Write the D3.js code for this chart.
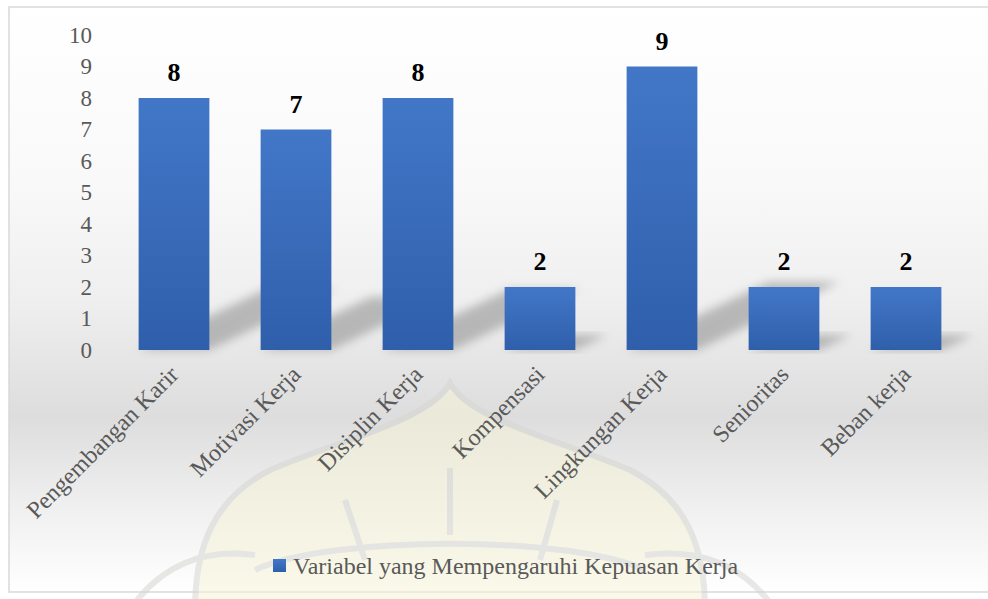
<!DOCTYPE html>
<html>
<head>
<meta charset="utf-8">
<script src="https://cdn.jsdelivr.net/npm/d3@7"></script>
<style>
  body { margin: 0; background: #fff; }
  svg { display: block; }
</style>
</head>
<body>
<div id="chart"></div>
<script>
const categories = ['Pengembangan Karir', 'Motivasi Kerja', 'Disiplin Kerja', 'Kompensasi', 'Lingkungan Kerja', 'Senioritas', 'Beban kerja'];
const values = [8, 7, 8, 2, 9, 2, 2];
const yTicks = [0, 1, 2, 3, 4, 5, 6, 7, 8, 9, 10];
const seriesName = 'Variabel yang Mempengaruhi Kepuasan Kerja';

const width = 988;
const height = 599;
const font = "'Liberation Serif', 'Times New Roman', serif";

const svg = d3.select('#chart')
  .append('svg')
  .attr('width', width)
  .attr('height', height);

const defs = svg.append('defs');

// chart area background
const bg = defs.append('linearGradient')
  .attr('id', 'bg')
  .attr('x1', 0).attr('y1', 0).attr('x2', 0).attr('y2', 1);
[[0, '#ffffff'], [0.3, '#f9f9f9'], [0.5, '#efefef'], [0.7, '#dddddd'], [0.85, '#efefef'], [1, '#ffffff']]
  .forEach(([o, c]) => bg.append('stop').attr('offset', o).attr('stop-color', c));

const barGrad = defs.append('linearGradient')
  .attr('id', 'bar')
  .attr('x1', 0).attr('y1', 0).attr('x2', 0).attr('y2', 1);
barGrad.append('stop').attr('offset', 0).attr('stop-color', '#4277c8');
barGrad.append('stop').attr('offset', 1).attr('stop-color', '#2f5fab');

defs.append('filter')
  .attr('id', 'blur')
  .attr('x', '-20%').attr('y', '-20%').attr('width', '140%').attr('height', '140%')
  .append('feGaussianBlur')
  .attr('stdDeviation', 5);

svg.append('rect')
  .attr('x', 9)
  .attr('y', 7)
  .attr('width', width)
  .attr('height', 585)
  .attr('fill', 'url(#bg)')
  .attr('stroke', '#d9d9d9')
  .attr('stroke-width', 1.5);

// faint watermark behind everything
const wm = svg.append('g').attr('fill', 'none').attr('stroke', '#d6d6d2').attr('stroke-width', 6).attr('opacity', 0.55);
wm.append('path')
  .attr('d', 'M450,383 C470,420 560,440 630,470 C685,498 705,545 705,610 L195,610 C195,545 215,498 270,470 C340,440 430,420 450,383 Z')
  .attr('fill', '#f6f4d8');
wm.append('path').attr('d', 'M130,610 C160,565 205,548 255,555');
wm.append('path').attr('d', 'M645,555 C700,548 745,565 775,610');
wm.append('path').attr('d', 'M450,468 L450,535');
wm.append('path').attr('d', 'M345,500 L365,560');
wm.append('path').attr('d', 'M557,500 L540,560');
wm.append('path').attr('d', 'M255,570 C330,535 570,535 645,570');

const x = d3.scaleBand()
  .domain(categories)
  .range([113, 967])
  .paddingInner(0.42)
  .paddingOuter(0.21);

const y = d3.scaleLinear()
  .domain([0, 10])
  .range([350, 35]);

const data = categories.map((c, i) => ({ name: c, value: values[i] }));

// perspective shadows
svg.append('g')
  .selectAll('polygon')
  .data(data)
  .enter()
  .append('polygon')
  .attr('points', d => {
    const x0 = x(d.name);
    const x1 = x0 + x.bandwidth();
    const h = y(0) - y(d.value);
    const dx = h * 0.5;
    const dy = h * 0.24;
    return [[x0, y(0)], [x1, y(0)], [x1 + dx, y(0) - dy], [x0 + dx, y(0) - dy]].join(' ');
  })
  .attr('fill', '#8c8c8c')
  .attr('opacity', 0.55)
  .attr('filter', 'url(#blur)');

svg.append('g')
  .selectAll('rect')
  .data(data)
  .enter()
  .append('rect')
  .attr('x', d => x(d.name))
  .attr('y', d => y(d.value))
  .attr('width', x.bandwidth())
  .attr('height', d => y(0) - y(d.value))
  .attr('fill', 'url(#bar)');

svg.append('g')
  .selectAll('text')
  .data(data)
  .enter()
  .append('text')
  .attr('x', d => x(d.name) + x.bandwidth() / 2)
  .attr('y', d => y(d.value) - 17)
  .attr('text-anchor', 'middle')
  .attr('font-family', font)
  .attr('font-weight', 'bold')
  .attr('font-size', 26)
  .attr('fill', '#000')
  .text(d => d.value);

// y axis labels only, no line
const yAxis = d3.axisLeft(y).tickValues(yTicks).tickSize(0).tickPadding(0);
const yG = svg.append('g')
  .attr('transform', 'translate(92,0)')
  .call(yAxis);
yG.select('.domain').remove();
yG.selectAll('text')
  .attr('font-family', font)
  .attr('font-size', 23)
  .attr('fill', '#595959');

// rotated category labels
const xAxis = d3.axisBottom(x).tickSize(0).tickPadding(0);
const xG = svg.append('g')
  .attr('transform', 'translate(0,350)')
  .call(xAxis);
xG.select('.domain').remove();
xG.selectAll('text')
  .attr('font-family', font)
  .attr('font-size', 24)
  .attr('fill', '#595959')
  .attr('text-anchor', 'end')
  .attr('dy', 0)
  .attr('y', 0)
  .attr('transform', 'translate(6,26) rotate(-45)');

// legend
const legend = svg.append('g').attr('transform', 'translate(273,559)');
legend.append('rect')
  .attr('width', 13)
  .attr('height', 13)
  .attr('fill', 'url(#bar)');
legend.append('text')
  .attr('x', 20)
  .attr('y', 6.5)
  .attr('dy', '0.35em')
  .attr('font-family', font)
  .attr('font-size', 24)
  .attr('fill', '#595959')
  .text(seriesName);
</script>
</body>
</html>
